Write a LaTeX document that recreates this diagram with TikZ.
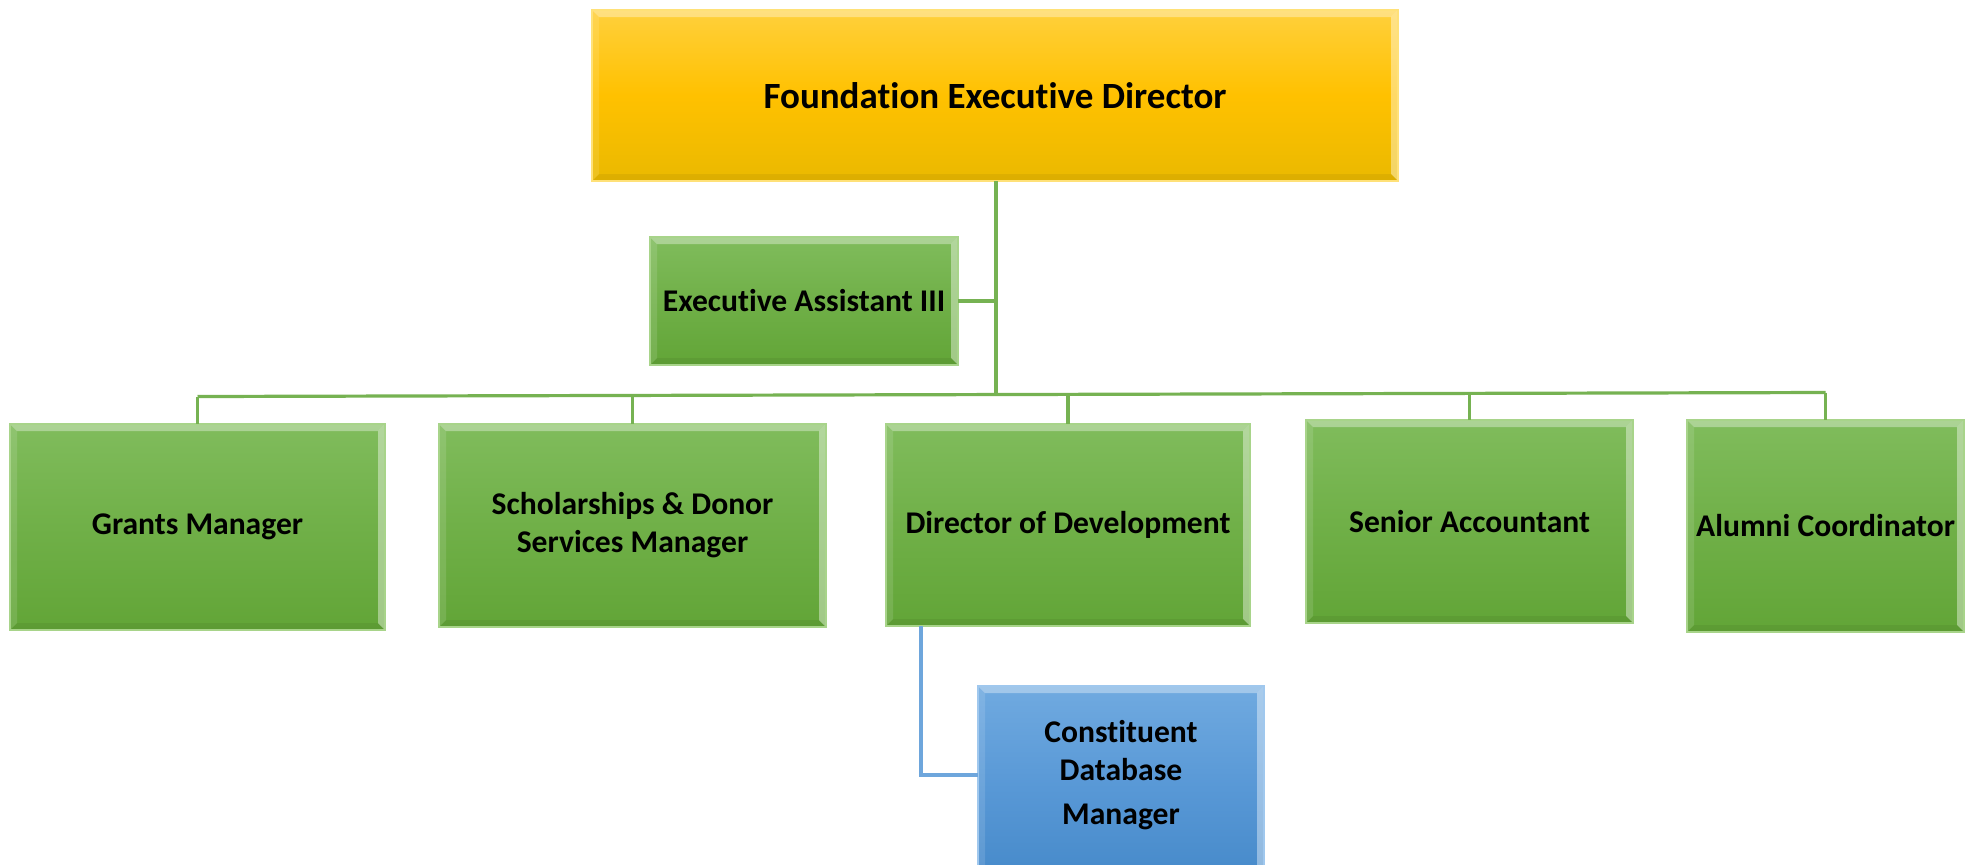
\documentclass[tikz,border=0pt]{standalone}
\usepackage{fontspec}
\setmainfont{Carlito}[Ligatures=CommonOff]
\definecolor{yTop}{RGB}{255,208,60}
\definecolor{yMid}{RGB}{255,193,0}
\definecolor{yBot}{RGB}{234,185,0}
\definecolor{yEdge}{RGB}{255,225,120}
\definecolor{gTop}{RGB}{128,188,92}
\definecolor{gMid}{RGB}{112,176,72}
\definecolor{gBot}{RGB}{98,165,55}
\definecolor{gEdge}{RGB}{168,212,138}
\definecolor{bTop}{RGB}{112,170,224}
\definecolor{bMid}{RGB}{88,152,214}
\definecolor{bBot}{RGB}{68,136,200}
\definecolor{bEdge}{RGB}{160,200,238}
\definecolor{gLine}{RGB}{118,178,82}
\definecolor{bLine}{RGB}{110,166,220}
\tikzset{
  bevel/.style={path picture={
    \fill[white,opacity=.35] (path picture bounding box.north west) -- (path picture bounding box.north east)
      -- ([shift={(-3.5pt,-3.5pt)}]path picture bounding box.north east) -- ([shift={(3.5pt,-3.5pt)}]path picture bounding box.north west) -- cycle;
    \fill[white,opacity=.12] (path picture bounding box.north west) -- (path picture bounding box.south west)
      -- ([shift={(3.5pt,3.5pt)}]path picture bounding box.south west) -- ([shift={(3.5pt,-3.5pt)}]path picture bounding box.north west) -- cycle;
    \fill[white,opacity=.40] (path picture bounding box.north east) -- (path picture bounding box.south east)
      -- ([shift={(-3.5pt,3.5pt)}]path picture bounding box.south east) -- ([shift={(-3.5pt,-3.5pt)}]path picture bounding box.north east) -- cycle;
    \fill[black,opacity=.06] (path picture bounding box.south west) -- (path picture bounding box.south east)
      -- ([shift={(-3.5pt,3.5pt)}]path picture bounding box.south east) -- ([shift={(3.5pt,3.5pt)}]path picture bounding box.south west) -- cycle;
  }},
  orgbox/.style={rectangle, outer sep=0pt, inner sep=2pt, align=center, line width=0.8pt,
    font=\fontsize{15.8}{19}\selectfont\bfseries, text=black, bevel},
  ybox/.style={orgbox, top color=yTop, bottom color=yBot, middle color=yMid, draw=yEdge},
  gbox/.style={orgbox, top color=gTop, bottom color=gBot, middle color=gMid, draw=gEdge},
  bbox/.style={orgbox, top color=bTop, bottom color=bBot, middle color=bMid, draw=bEdge},
  gconn/.style={draw=gLine, line width=1.6pt},
  bconn/.style={draw=bLine, line width=1.6pt},
}
\begin{document}
\begin{tikzpicture}[x=0.5pt,y=-0.5pt]
\useasboundingbox (0,0) rectangle (1974,864);
\clip (0,0) rectangle (1974,864);
% nodes
\node[ybox, minimum width=403pt, minimum height=85.5pt, font=\fontsize{18.5}{22}\selectfont\bfseries] (fed) at (995,95.5) {Foundation Executive Director};
\node[gbox, minimum width=154pt, minimum height=64pt] (ea) at (804,301) {Executive Assistant III};
\node[gbox, minimum width=187.5pt, minimum height=103pt] (gm) at (197.5,527) {Grants Manager};
\node[gbox, minimum width=193.5pt, minimum height=101.5pt] (sd) at (632.5,525.5) {Scholarships \& Donor\\Services Manager};
\node[gbox, minimum width=182pt, minimum height=101pt] (dd) at (1068,525) {Director of Development};
\node[gbox, minimum width=163.5pt, minimum height=101.5pt] (sa) at (1469.5,521.5) {Senior Accountant};
\node[gbox, minimum width=138.5pt, minimum height=106pt] (ac) at (1825.5,526) {Alumni Coordinator};
\node[bbox, minimum width=143pt, minimum height=102pt] (cdm) at (1121,788) {\raisebox{2.5pt}[0pt][0pt]{\begin{tabular}{@{}c@{}}Constituent\\Database\\[3pt]Manager\end{tabular}}};
% bus coordinates
\coordinate (b0) at (996,394.5);
\coordinate (bL) at (197.5,396.5);
\coordinate (bR) at (1825.5,392.5);
\coordinate (bs) at (632.5,395.4);
\coordinate (bd) at (1068,394.3);
\coordinate (ba) at (1469.5,393.3);
\coordinate (bc) at (921,775);
% connectors
\draw[gconn] (fed.south -| b0) -- (b0);
\draw[gconn] (ea.east) -- (ea.east -| b0);
\draw[gconn] (bL) -- (bR);
\draw[gconn] (bL) -- (gm.north);
\draw[gconn] (bs) -- (sd.north);
\draw[gconn] (bd) -- (dd.north);
\draw[gconn] (ba) -- (sa.north);
\draw[gconn] (bR) -- (ac.north);
\draw[bconn] (dd.south -| bc) -- (bc) -- (bc -| cdm.west);
\end{tikzpicture}
\end{document}
